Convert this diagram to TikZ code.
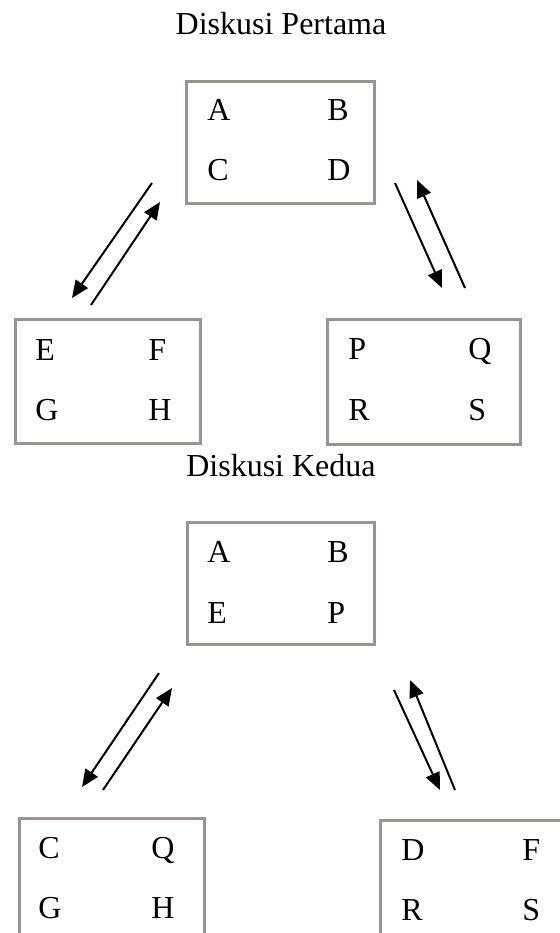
\documentclass[tikz,border=0pt]{standalone}
\usepackage{fontspec}
\setmainfont{Liberation Serif}
\usetikzlibrary{arrows.meta}
\definecolor{boxgray}{RGB}{155,146,146}
\tikzset{
  grp/.style={draw=boxgray, line width=1.9pt, inner sep=0pt, anchor=north west},
  member/.style={inner sep=0pt, anchor=base west, font=\fontsize{24}{28}\selectfont},
  heading/.style={inner sep=0pt, anchor=base, font=\fontsize{24}{28}\selectfont},
  flow/.style={line width=1.5pt, -{Triangle[length=13pt, width=11pt]}}
}
\begin{document}
\begin{tikzpicture}[x=0.75pt, y=-0.75pt]
\useasboundingbox (0,0) rectangle (560,933);
\clip (0,0) rectangle (560,933);

% ---------- first round ----------
\node[heading] (t1) at (281,34) {Diskusi Pertama};

\node[grp, minimum width=188*0.75pt, minimum height=122*0.75pt] (g1) at (185,80) {};
\node[member] (g1a) at (207,120) {A};
\node[member] (g1b) at (327,120) {B};
\node[member] (g1c) at (207,180) {C};
\node[member] (g1d) at (327,180) {D};

\node[grp, minimum width=185*0.75pt, minimum height=124*0.75pt] (g2) at (14,318) {};
\node[member] (g2e) at (35,360) {E};
\node[member] (g2f) at (148,360) {F};
\node[member] (g2g) at (35,420) {G};
\node[member] (g2h) at (148,420) {H};

\node[grp, minimum width=193*0.75pt, minimum height=125*0.75pt] (g3) at (326,318) {};
\node[member] (g3p) at (348,359) {P};
\node[member] (g3q) at (468,359) {Q};
\node[member] (g3r) at (348,420) {R};
\node[member] (g3s) at (468,420) {S};

% arrow ends between the groups
\coordinate (l1a) at (152,183); \coordinate (l1b) at (72,298);
\coordinate (l2a) at (91,305);  \coordinate (l2b) at (160,202);
\coordinate (r1a) at (395,183); \coordinate (r1b) at (442,288);
\coordinate (r2a) at (465,288); \coordinate (r2b) at (417,180);
\draw[flow] (l1a) -- (l1b);
\draw[flow] (l2a) -- (l2b);
\draw[flow] (r1a) -- (r1b);
\draw[flow] (r2a) -- (r2b);

% ---------- second round ----------
\node[heading] (t2) at (281,476) {Diskusi Kedua};

\node[grp, minimum width=187*0.75pt, minimum height=122*0.75pt] (h1) at (186,521) {};
\node[member] (h1a) at (207,562) {A};
\node[member] (h1b) at (327,562) {B};
\node[member] (h1e) at (207,623) {E};
\node[member] (h1p) at (327,623) {P};

\node[grp, minimum width=185*0.75pt, minimum height=130*0.75pt] (h2) at (18,817) {};
\node[member] (h2c) at (38,858) {C};
\node[member] (h2q) at (151,858) {Q};
\node[member] (h2g) at (38,918) {G};
\node[member] (h2h) at (151,918) {H};

\node[grp, minimum width=192*0.75pt, minimum height=130*0.75pt] (h3) at (379,819) {};
\node[member] (h3d) at (401,860) {D};
\node[member] (h3f) at (522,860) {F};
\node[member] (h3r) at (401,920) {R};
\node[member] (h3s) at (522,920) {S};

\coordinate (m1a) at (159,673); \coordinate (m1b) at (82,787);
\coordinate (m2a) at (103,790); \coordinate (m2b) at (172,688);
\coordinate (n1a) at (394,690); \coordinate (n1b) at (440,790);
\coordinate (n2a) at (455,790); \coordinate (n2b) at (410,680);
\draw[flow] (m1a) -- (m1b);
\draw[flow] (m2a) -- (m2b);
\draw[flow] (n1a) -- (n1b);
\draw[flow] (n2a) -- (n2b);
\end{tikzpicture}
\end{document}
